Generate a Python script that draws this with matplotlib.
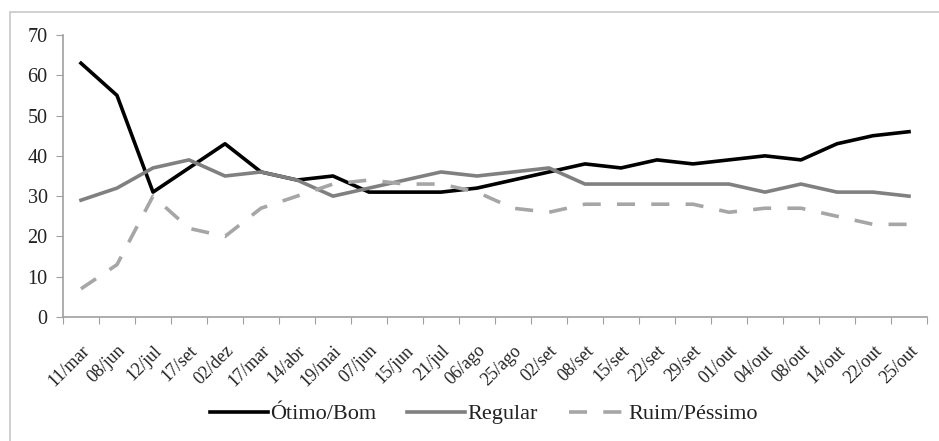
import matplotlib.pyplot as plt
import matplotlib.patches as mpatches

plt.rcParams["font.family"] = ["Liberation Serif", "DejaVu Serif"]

datas = ["11/mar", "08/jun", "12/jul", "17/set", "02/dez", "17/mar", "14/abr",
         "19/mai", "07/jun", "15/jun", "21/jul", "06/ago", "25/ago", "02/set",
         "08/set", "15/set", "22/set", "29/set", "01/out", "04/out", "08/out",
         "14/out", "22/out", "25/out"]
otimo_bom = [63, 55, 31, 37, 43, 36, 34, 35, 31, 31, 31, 32,
             34, 36, 38, 37, 39, 38, 39, 40, 39, 43, 45, 46]
regular = [29, 32, 37, 39, 35, 36, 34, 30, 32, 34, 36, 35,
           36, 37, 33, 33, 33, 33, 33, 31, 33, 31, 31, 30]
ruim_pessimo = [7, 13, 30, 22, 20, 27, 30, 33, 34, 33, 33, 31,
                27, 26, 28, 28, 28, 28, 26, 27, 27, 25, 23, 23]

W, H = 939, 441
fig = plt.figure(figsize=(W / 100, H / 100), dpi=100)

# outer chart border (cut off at right and bottom in the original)
fig.patches.append(mpatches.Rectangle((10 / W, -0.1), 1.2, 1.1 - 12 / H,
                                      transform=fig.transFigure, fill=False,
                                      ec="#c8c8c8", lw=1.2))

ax = fig.add_axes([63 / W, 1 - 317 / H, (927 - 63) / W, (317 - 35) / H])
x = list(range(len(datas)))
ax.plot(x, otimo_bom, color="black", lw=2.6, label="Ótimo/Bom")
ax.plot(x, regular, color="#808080", lw=2.6, label="Regular")
ax.plot(x, ruim_pessimo, color="#a6a6a6", lw=2.6, dashes=(5, 4.5),
        label="Ruim/Péssimo")

ax.set_xlim(-0.5, len(datas) - 0.5)
ax.set_ylim(0, 70)
ax.set_yticks(range(0, 71, 10))
ax.set_xticks([i - 0.5 for i in range(len(datas) + 1)])
ax.set_xticklabels([])
ax.set_xticks(x, minor=True)
ax.set_xticklabels(datas, minor=True, rotation=45, ha="right",
                   rotation_mode="anchor", fontsize=13, color="#222222")
ax.tick_params(axis="x", which="minor", length=0, pad=18)
ax.tick_params(axis="x", which="major", length=5, color="#a0a0a0")
ax.tick_params(axis="y", length=5, color="#a0a0a0", labelsize=14.5, pad=6,
               labelcolor="#222222")

for s in ["top", "right"]:
    ax.spines[s].set_visible(False)
for s in ["left", "bottom"]:
    ax.spines[s].set_color("#a0a0a0")
    ax.spines[s].set_linewidth(1.2)

fig.legend(loc="center", bbox_to_anchor=(484 / W, 1 - 414 / H), ncol=3,
           frameon=False, fontsize=16, handlelength=2.6, handletextpad=0.1,
           columnspacing=1.4, labelcolor="#222222")

fig.savefig("out.png", dpi=100)
